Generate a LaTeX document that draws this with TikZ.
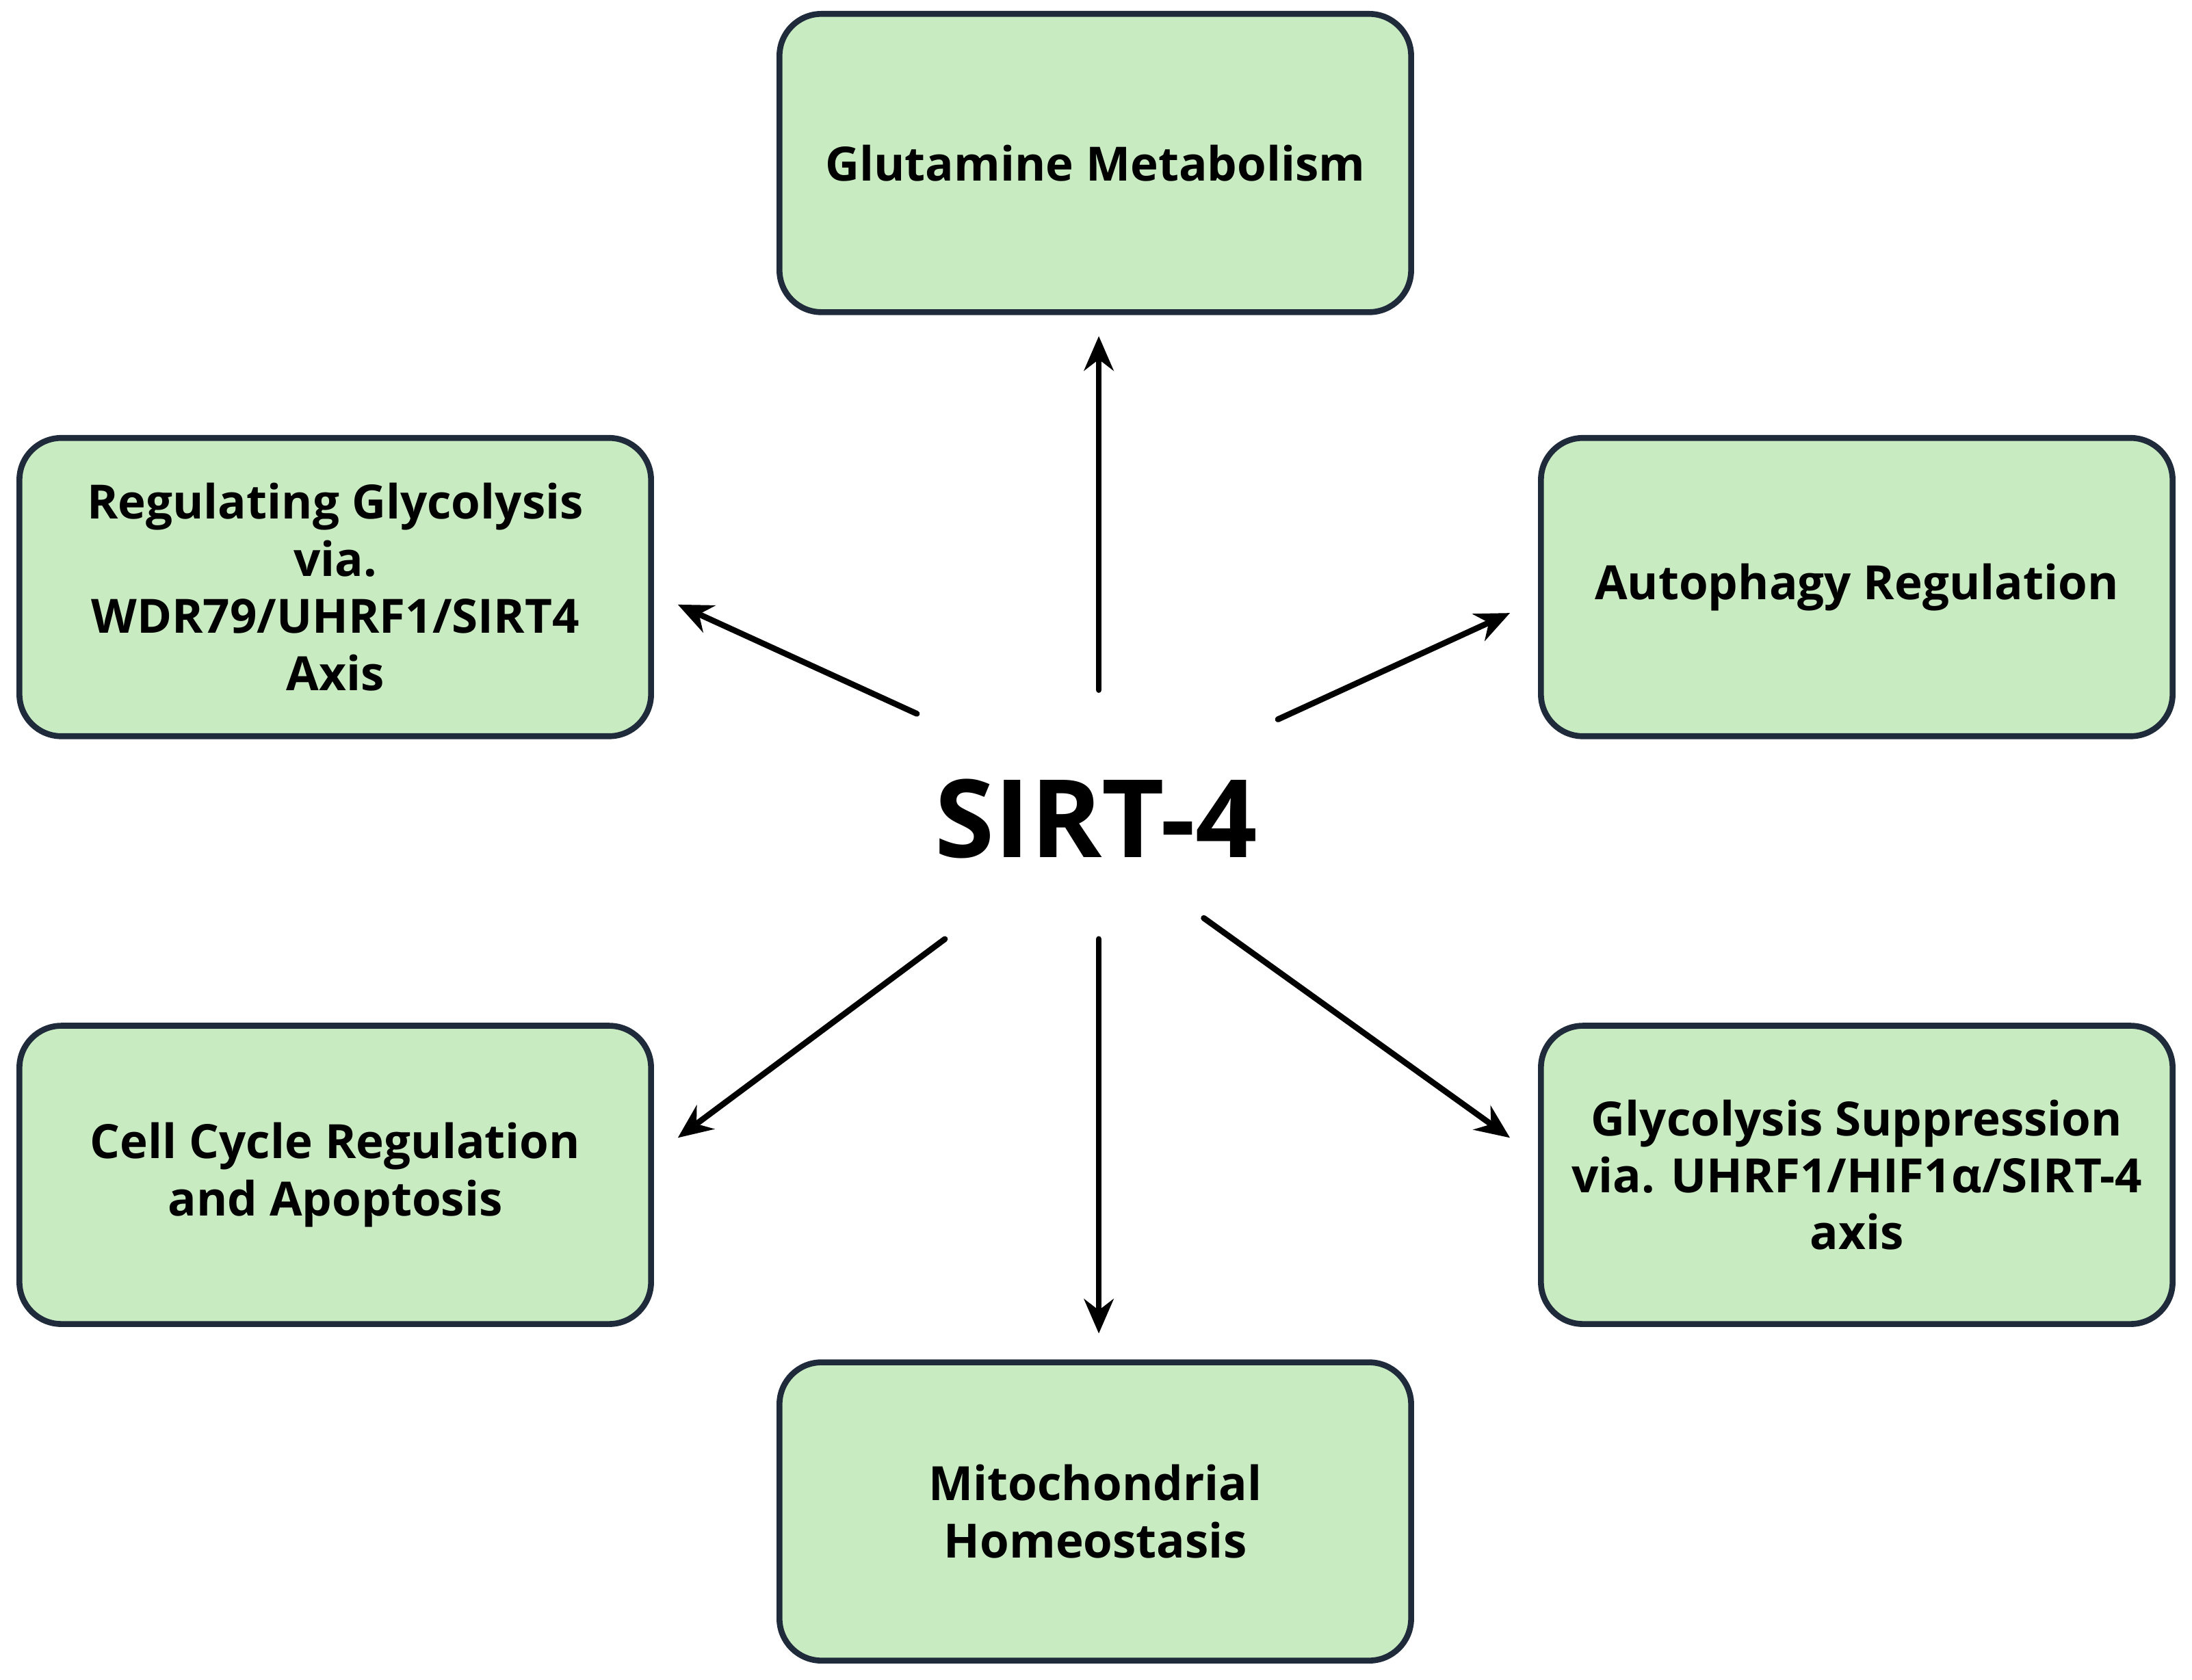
\documentclass[tikz,border=0pt]{standalone}
\usepackage{fontspec}
\setmainfont{Open Sans}
\usepackage{tikz}
\usetikzlibrary{arrows.meta,
                calc,
                positioning}
\definecolor{boxfill}{rgb}{0.79,0.92,0.76}
\definecolor{boxline}{rgb}{0.12,0.17,0.23}

\tikzset{
  sbox/.style={draw=boxline,fill=boxfill,line width=1.2pt,rounded corners=0.3cm,
    minimum width=4.51cm,minimum height=2.13cm,align=center,
    font=\fontsize{9.6}{11.6}\selectfont\bfseries},
  sarr/.style={-{Stealth[length=7pt,width=6pt]},line width=1.2pt,color=black}
}

\begin{document}
\begin{tikzpicture}[line cap=round,line join=round,x=0.01cm,y=0.01cm]
\useasboundingbox (0,0) rectangle (1566,1200);
% boxes
\node[sbox] (glut) at (782.5,1083.5) {Glutamine Metabolism};
\node[sbox] (glyc) at (239.5,780.5) {Regulating Glycolysis\\via.\\WDR79/UHRF1/SIRT4\\Axis};
\node[sbox] (auto) at (1326.5,780.5) {Autophagy Regulation};
\node[sbox] (cell) at (239.5,360.5) {Cell Cycle Regulation\\and Apoptosis};
\node[sbox] (supp) at (1326.5,360.5) {Glycolysis Suppression\\via. UHRF1/HIF1α/SIRT-4\\axis};
\node[sbox] (mito) at (782.5,120) {Mitochondrial\\Homeostasis};
% centre
\node[font=\fontsize{22}{26}\selectfont\bfseries] (sirt) at (783,615) {SIRT-4};
\coordinate (s1) at (785,707);
\coordinate (s2) at (655,690);
\coordinate (s3) at (913,686);
\coordinate (s4) at (675,529);
\coordinate (s5) at (785,529);
\coordinate (s6) at (860,544);
% arrows
\draw[sarr] (s1) -- ($(glut.south)+(2.5,-15)$);
\draw[sarr] (s2) -- ($(glyc.east)+(17,-12.5)$);
\draw[sarr] (s3) -- ($(auto.west)+(-20,-18.5)$);
\draw[sarr] (s4) -- ($(cell.east)+(17,26.5)$);
\draw[sarr] (s5) -- ($(mito.north)+(2.5,18.5)$);
\draw[sarr] (s6) -- ($(supp.west)+(-20,26.5)$);
\end{tikzpicture}
\end{document}
